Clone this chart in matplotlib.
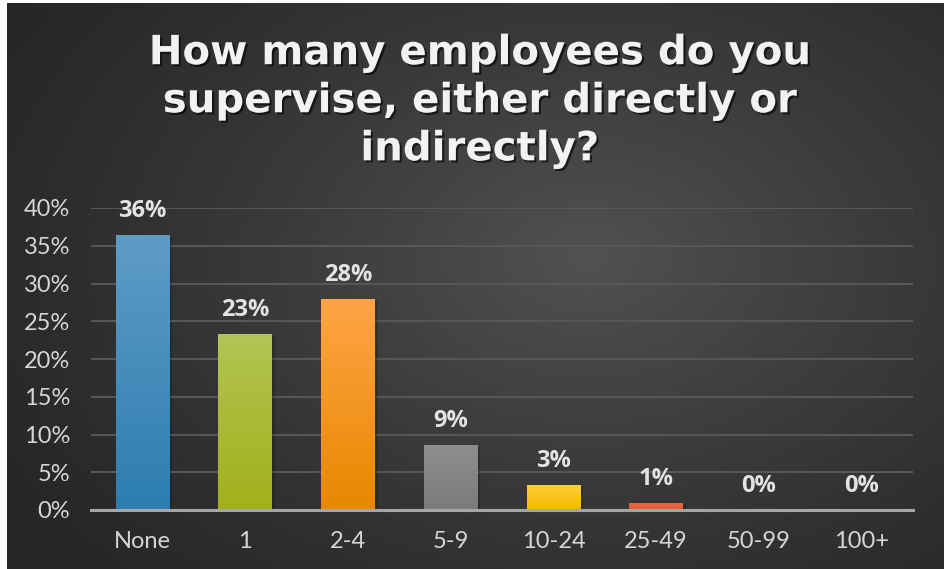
import numpy as np
import matplotlib.pyplot as plt
import matplotlib.patheffects as pe
from matplotlib.colors import LinearSegmentedColormap

categories = ['None', '1', '2-4', '5-9', '10-24', '25-49', '50-99', '100+']
shares = [36.4, 23.3, 27.9, 8.6, 3.2, 0.8, 0.0, 0.0]
# top / bottom colour of each bar's vertical gradient
bar_tops = ['#5e9cc6', '#b2c453', '#ffa446', '#8e8e8e', '#ffcd38', '#ea6640', '#888888', '#888888']
bar_bottoms = ['#2d7db0', '#a1b01a', '#e88800', '#7a7a7a', '#f2b900', '#e35a2e', '#777777', '#777777']
yticks = [0, 5, 10, 15, 20, 25, 30, 35, 40]

W, H = 946, 569
fig = plt.figure(figsize=(W / 100, H / 100), dpi=100)
fig.patch.set_facecolor('white')

# dark slide background with a soft radial highlight
bg = fig.add_axes([7 / W, 0, 936 / W, 566 / H])
bg.axis('off')
yy, xx = np.mgrid[0:1:300j, 0:1:500j]
r = np.sqrt(((xx - 0.62) / 0.75) ** 2 + ((yy - 0.45) / 0.85) ** 2)
light = np.clip(1 - r, 0, 1) ** 1.3
shade = 0.15 + 0.17 * light
bg.imshow(np.dstack([shade] * 3), extent=[0, 1, 0, 1], aspect='auto', origin='upper')
bg.set_xlim(0, 1)
bg.set_ylim(0, 1)

ax = fig.add_axes([91 / W, 1 - 510 / H, 822 / W, 302 / H])
ax.patch.set_alpha(0)
x = np.arange(len(categories))
bars = ax.bar(x, shares, width=0.52, color='none', zorder=3)

for bar, top, bottom in zip(bars, bar_tops, bar_bottoms):
    h = bar.get_height()
    if h <= 0:
        continue
    cmap = LinearSegmentedColormap.from_list('g', [bottom, top])
    grad = np.linspace(0, 1, 100).reshape(-1, 1)
    x0 = bar.get_x()
    # faint drop shadow
    ax.fill_between([x0 + 0.03, x0 + bar.get_width() + 0.03], 0, h - 0.2,
                    color='black', alpha=0.18, zorder=2, lw=0)
    ax.imshow(grad, cmap=cmap, origin='lower', aspect='auto', zorder=3,
              extent=[x0, x0 + bar.get_width(), 0, h])

for xi, v in zip(x, shares):
    ax.annotate(f'{v:.0f}%', (xi, v), xytext=(0, 9), textcoords='offset points',
                ha='center', va='bottom', fontsize=17, fontweight='bold',
                family='Open Sans', color='#e3e3e3', zorder=5, annotation_clip=False)

ax.set_xlim(-0.5, len(categories) - 0.5)
ax.set_ylim(0, 40)
ax.set_yticks(yticks)
ax.set_yticklabels([f'{t}%' for t in yticks])
ax.set_xticks(x)
ax.set_xticklabels(categories)
ax.tick_params(length=0, colors='#d6d6d6', labelsize=17)
ax.tick_params(axis='y', pad=15)
ax.tick_params(axis='x', pad=15)
for lab in ax.get_xticklabels() + ax.get_yticklabels():
    lab.set_family('Lato')
ax.grid(axis='y', color='#575757', lw=1.5, zorder=1)
for s in ['top', 'right', 'left']:
    ax.spines[s].set_visible(False)
ax.spines['bottom'].set_color('#a6a6a6')
ax.spines['bottom'].set_linewidth(2.2)
ax.spines['bottom'].set_zorder(4)

fig.text(0.507, 0.822, 'How many employees do you\nsupervise, either directly or\nindirectly?',
         ha='center', va='center', fontsize=29, fontweight='bold', family='DejaVu Sans',
         color='#f2f2f2', linespacing=1.26,
         path_effects=[pe.withSimplePatchShadow(offset=(1.5, -1.5), shadow_rgbFace='black', alpha=0.6)])

fig.savefig('out.png', dpi=100, facecolor='white')
